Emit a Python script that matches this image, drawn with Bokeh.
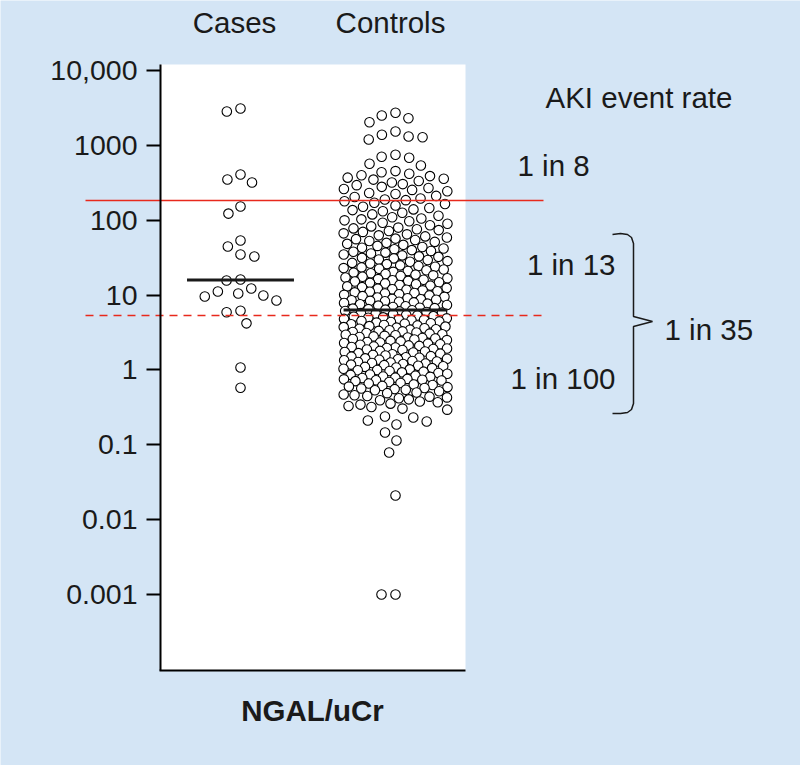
import numpy as np
from bokeh.plotting import figure
from bokeh.models import (Range1d, LogAxis, FixedTicker, BoxAnnotation, Label,
                          ColumnDataSource)
from bokeh.embed import file_html
from bokeh.resources import INLINE

# ---------------- data ----------------
GROUPS = ["Cases", "Controls"]
CASES = [3120, 2845, 409, 351, 320, 153, 123, 53.7, 44.7, 34.9, 32.9, 16.2, 15.7,
         12.3, 11.2, 10.5, 9.9, 9.6, 8.5, 6.2, 5.9, 4.2, 1.08, 0.58]
CONTROLS = [
    2735, 2517, 2317, 2049, 1538, 1390, 1318, 1291, 1202, 751, 706, 685, 569, 541,
    455, 440, 420, 400, 390, 372, 360, 350,
    335, 320, 305, 295, 280, 270, 262, 255,
    245, 232, 225, 212, 205, 196, 190, 186,
    180, 172, 165, 158, 152, 146, 140, 137,
    132, 126, 120, 115, 110, 106, 103, 100,
    97, 93, 90, 86, 83, 80, 78, 76, 74,
    72, 70, 67, 65, 63, 61, 59, 57, 56, 54.5,
    53, 51.5, 50, 48.5, 47, 45.5, 44, 43, 42, 41, 40,
    39, 38, 37, 36, 35, 34, 33, 32.5, 31.5, 31, 30, 29.5,
    28.5, 28, 27, 26.5, 26, 25, 24.5, 24, 23.5, 23, 22.5, 22, 21.5,
    21, 20.5, 20, 19.6, 19.2, 18.8, 18.4, 18, 17.6, 17.2, 16.8, 16.4, 16.1, 15.8,
    15.5, 15.2, 14.9, 14.6, 14.3, 14, 13.7, 13.4, 13.1, 12.8, 12.5, 12.2, 12, 11.8, 11.6,
    11.3, 11.1, 10.9, 10.7, 10.5, 10.3, 10.1, 9.9, 9.7, 9.5, 9.3, 9.1, 8.9, 8.8, 8.7, 8.55,
    8.4, 8.3, 8.15, 8.0, 7.85, 7.7, 7.55, 7.4, 7.25, 7.1, 6.95, 6.8, 6.7, 6.6, 6.5, 6.4, 6.3,
    6.15, 6.05, 5.95, 5.85, 5.75, 5.65, 5.55, 5.45, 5.35, 5.25, 5.15, 5.05, 4.98, 4.9, 4.82, 4.75, 4.68, 4.62,
    4.52, 4.45, 4.38, 4.3, 4.22, 4.15, 4.08, 4.0, 3.93, 3.86, 3.8, 3.74, 3.68, 3.62, 3.56, 3.5, 3.45, 3.4,
    3.33, 3.28, 3.22, 3.17, 3.12, 3.06, 3.01, 2.96, 2.91, 2.86, 2.81, 2.76, 2.72, 2.68, 2.63, 2.59, 2.55, 2.51,
    2.45, 2.41, 2.37, 2.33, 2.29, 2.25, 2.21, 2.17, 2.13, 2.1, 2.06, 2.03, 2.0, 1.97, 1.94, 1.91, 1.88, 1.85,
    1.8, 1.77, 1.74, 1.71, 1.68, 1.65, 1.62, 1.59, 1.56, 1.53, 1.5, 1.48, 1.46, 1.43, 1.41, 1.39, 1.37, 1.35,
    1.32, 1.3, 1.28, 1.26, 1.24, 1.22, 1.2, 1.18, 1.16, 1.14, 1.12, 1.1, 1.08, 1.06, 1.04, 1.02, 1.0, 0.99,
    0.97, 0.95, 0.93, 0.91, 0.89, 0.87, 0.86, 0.84, 0.82, 0.81, 0.79, 0.78, 0.76, 0.75, 0.74, 0.73, 0.725,
    0.71, 0.69, 0.67, 0.66, 0.64, 0.63, 0.61, 0.6, 0.59, 0.575, 0.565, 0.555, 0.545, 0.535,
    0.52, 0.5, 0.49, 0.47, 0.46, 0.45, 0.44, 0.43, 0.42, 0.405, 0.395,
    0.38, 0.37, 0.355, 0.345, 0.33, 0.32, 0.305, 0.295,
    0.239, 0.232, 0.211, 0.205, 0.187, 0.146, 0.114, 0.079, 0.021, 0.001, 0.001,
]
THRESHOLDS = [184, 5.35]          # solid, dashed cut-offs
Y_TICKS = [0.001, 0.01, 0.1, 1, 10, 100, 1000, 10000]
Y_TICK_LABELS = ["0.001", "0.01", "0.1", "1", "10", "100", "1000", "10,000"]
X_LABEL = "NGAL/uCr"
RATE_TITLE = "AKI event rate"
RATE_LABELS = ["1 in 8", "1 in 13", "1 in 100", "1 in 35"]

# ---------------- layout helpers (page pixels -> data) ----------------
BG = "#d4e5f5"
INK = "#1a1a1a"
RED = "#e8291c"
FONT = "Liberation Sans"
PX_PER_UNIT = 155.0
PX_PER_DECADE = 74.83
W, H = 800, 765


def px2x(px):
    return 1 + (px - 240) / PX_PER_UNIT


def px2y(py):
    return 10 ** (3 - (py - 145) / PX_PER_DECADE)


def swarm(vals, half, dlist=(14, 13, 12, 11, 10, 9.5, 9, 8.5, 8, 7.5, 7, 6)):
    """Greedy beeswarm; spacing shrinks (circles overlap) where the column would get too wide."""
    ys = -np.log10(np.asarray(vals, dtype=float)) * PX_PER_DECADE
    order = np.argsort(ys, kind="stable")
    placed = []
    xs = np.zeros(len(ys))
    for i in order:
        y = ys[i]
        chosen = 0.0
        for d in dlist:
            nb = [(px, py) for px, py in placed if abs(py - y) < d]
            cands = [0.0]
            for px, py in nb:
                dx = np.sqrt(d * d - (py - y) ** 2)
                cands += [px + dx, px - dx]
            cands = [c for c in cands if abs(c) <= half]
            cands.sort(key=lambda c: (abs(c), c))
            ok = None
            for c in cands:
                if all((c - px) ** 2 + (y - py) ** 2 >= d * d - 1e-6 for px, py in nb):
                    ok = c
                    break
            if ok is not None:
                chosen = ok
                break
        xs[i] = chosen
        placed.append((chosen, y))
    return xs / PX_PER_UNIT


p = figure(width=W, height=H, output_backend="svg", toolbar_location=None,
           x_range=Range1d(px2x(0), px2x(W)),
           y_range=Range1d(px2y(H), px2y(0)),
           y_axis_type="log", x_axis_location=None, y_axis_location=None,
           min_border=0, background_fill_color=BG, border_fill_color=BG,
           outline_line_color=None)
p.grid.visible = False

# white plotting panel
p.add_layout(BoxAnnotation(left=px2x(160), right=px2x(465), bottom=px2y(670), top=px2y(64),
                           fill_color="white", fill_alpha=1, line_color=None, level="underlay"))

# y axis at the panel's left edge
yaxis = LogAxis(fixed_location=px2x(160), bounds=(px2y(670), px2y(64)),
                ticker=FixedTicker(ticks=Y_TICKS, minor_ticks=[]),
                major_label_overrides={t: l for t, l in zip(Y_TICKS, Y_TICK_LABELS)},
                axis_line_color="black", axis_line_width=2,
                major_tick_line_color="black", major_tick_line_width=2,
                major_tick_out=14, major_tick_in=0, minor_tick_out=0, minor_tick_in=0,
                major_label_standoff=9, major_label_text_font=FONT,
                major_label_text_font_size="28.5px", major_label_text_color=INK)
p.add_layout(yaxis, "left")

# bottom edge of the panel
ybot = px2y(670)
p.segment(x0=[px2x(159)], y0=[ybot], x1=[px2x(465)], y1=[ybot], line_color="black", line_width=2)

# points
for gi, vals, half in [(1, CASES, 40.0), (2, CONTROLS, 52.0)]:
    xs = gi + swarm(vals, half)
    src = ColumnDataSource(dict(x=xs, y=vals))
    p.scatter("x", "y", source=src, marker="circle", size=9.5, fill_color="white",
              line_color="black", line_width=1.1)

# thresholds
p.segment(x0=[px2x(85)], y0=[THRESHOLDS[0]], x1=[px2x(543)], y1=[THRESHOLDS[0]],
          line_color=RED, line_width=1.6)
p.segment(x0=[px2x(85)], y0=[THRESHOLDS[1]], x1=[px2x(543)], y1=[THRESHOLDS[1]],
          line_color=RED, line_width=1.6, line_dash="8 6")

# medians
meds = [np.median(CASES), np.median(CONTROLS)]
p.segment(x0=[1 - 0.345, 2 - 0.335], y0=meds, x1=[1 + 0.345, 2 + 0.335], y1=meds,
          line_color=INK, line_width=3)


def lab(text, px, py, align="left", bold=False):
    p.add_layout(Label(x=px2x(px), y=px2y(py), text=text, text_font=FONT,
                       text_font_size="29.5px", text_color=INK, text_align=align,
                       text_baseline="alphabetic",
                       text_font_style="bold" if bold else "normal"))


lab(GROUPS[0], 234, 22, "center")
lab(GROUPS[1], 390, 22, "center")
lab(RATE_TITLE, 545, 97)
lab(RATE_LABELS[0], 517, 165)
lab(RATE_LABELS[1], 615, 264, "right")
lab(RATE_LABELS[2], 615, 378, "right")
lab(RATE_LABELS[3], 664, 329)
lab(X_LABEL, 312, 710, "center", bold=True)

# brace
bx = [612, 620, 627, 631, 633, 633, 652, 633, 633, 631, 627, 620, 612]
by = [234, 233, 234, 237, 243, 316, 321, 326, 403, 409, 412, 413, 413]
p.line([px2x(v) for v in bx], [px2y(v) for v in by], line_color=INK, line_width=1.5)

html = file_html(p, INLINE, title="NGAL/uCr")
open("out.html", "w").write(html)
